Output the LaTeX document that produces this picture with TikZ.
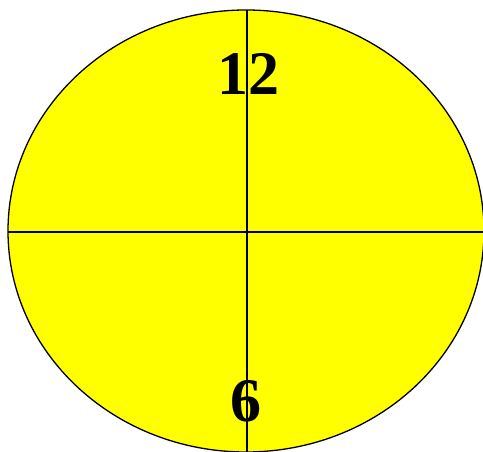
\documentclass[tikz,border=0pt]{standalone}
\usepackage{fontspec}
\setmainfont{Liberation Serif}
\usetikzlibrary{shapes.geometric}
\definecolor{clockyellow}{RGB}{255,255,0}
\begin{document}
\begin{tikzpicture}[x=1pt,y=-1pt,
  face/.style={draw=black,fill=clockyellow,line width=1.3pt},
  axis/.style={draw=black,line width=1.3pt},
  numlbl/.style={inner sep=0pt,font=\bfseries\fontsize{62}{62}\selectfont}]
\useasboundingbox (0,0) rectangle (483,452);
\fill[white] (0,0) rectangle (483,452);
\node[face,ellipse,minimum width=476pt,minimum height=442pt,inner sep=0pt] (clock) at (246,231) {};
\coordinate (top) at (247,10);
\coordinate (bot) at (247,452);
\coordinate (lft) at (8,232);
\coordinate (rgt) at (483,232);
\node[numlbl,anchor=base] (twelve) at (248,95) {12};
\node[numlbl,anchor=base] (six) at (246,421) {6};
\draw[axis] (top) -- (bot);
\draw[axis] (lft) -- (rgt);
\end{tikzpicture}
\end{document}
